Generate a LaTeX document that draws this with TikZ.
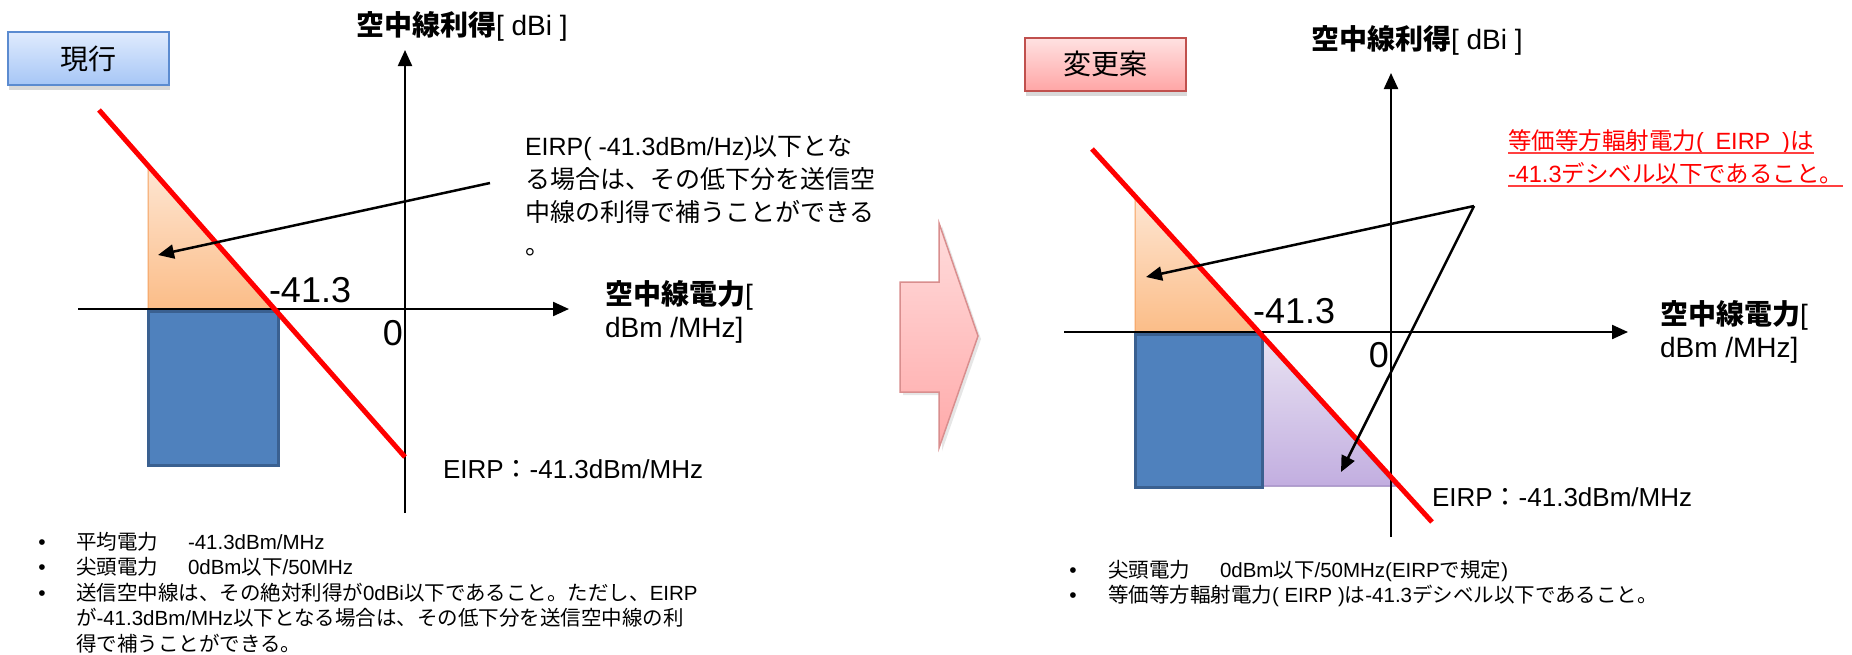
\documentclass[tikz,border=0pt]{standalone}
\usepackage{fontspec}
\setmainfont{Liberation Sans}
\newfontfamily\jp{Noto Sans CJK JP}
\newcommand\J[1]{{\jp #1}}
\newcommand\fs[1]{\fontsize{#1}{#1}\selectfont}
\usetikzlibrary{arrows.meta,shadows}
\definecolor{blueFill}{HTML}{4F81BD}
\definecolor{blueEdge}{HTML}{3A6090}
\definecolor{orgTop}{HTML}{FEE6D3}
\definecolor{orgBot}{HTML}{FBBD88}
\definecolor{orgEdge}{HTML}{F5A15F}
\definecolor{purTop}{HTML}{E8E2F2}
\definecolor{purBot}{HTML}{C2AEE0}
\definecolor{purEdge}{HTML}{8E78B4}
\definecolor{boxBTop}{HTML}{E0EBFD}
\definecolor{boxBBot}{HTML}{A6C6F6}
\definecolor{boxBEdge}{HTML}{5B8BD0}
\definecolor{boxRTop}{HTML}{FFE2E2}
\definecolor{boxRBot}{HTML}{FFA6A6}
\definecolor{boxREdge}{HTML}{C0504D}
\definecolor{arrTop}{HTML}{FFDCDC}
\definecolor{arrBot}{HTML}{FFA9A9}
\definecolor{arrEdge}{HTML}{D98E8E}
\definecolor{pureRed}{HTML}{FF0000}
\definecolor{ulRed}{HTML}{FF4040}
\begin{document}
\begin{tikzpicture}[x=1pt,y=-1pt,
  txt/.style={inner sep=0pt, outer sep=0pt, anchor=base west},
  axisline/.style={line width=2.2pt, -{Triangle[length=16pt,width=14pt]}},
  notearrow/.style={line width=2.5pt, -{Triangle[length=16pt,width=14pt]}},
  eirpline/.style={line width=5pt, pureRed},
  tagbox/.style={minimum width=161pt, minimum height=53pt, line width=2pt, inner sep=0pt,
    font=\fs{28}\jp, drop shadow={opacity=0.3, shadow xshift=1pt, shadow yshift=-5pt}},
  bul/.style={inner sep=0pt, anchor=base, font=\fs{21}},
  bt/.style={txt, font=\fs{20.5}},
]
\useasboundingbox (0,0) rectangle (1852,654);

% ---------------- left panel ----------------
\node[tagbox, draw=boxBEdge, top color=boxBTop, bottom color=boxBBot] (tagA) at (88,58.5) {現行};

\path[draw=orgEdge, line width=1pt, top color=orgTop, bottom color=orgBot]
  (148,166) -- (148,309) -- (274,309) -- cycle;
\path[draw=blueEdge, line width=3pt, fill=blueFill] (148,311) rectangle (278,465);

\coordinate (lyb) at (405,513);
\coordinate (lyt) at (405,50);
\coordinate (lxl) at (78,309);
\coordinate (lxr) at (569,309);
\draw[axisline] (lyb) -- (lyt);
\draw[axisline] (lxl) -- (lxr);

\coordinate (lra) at (99,110);
\coordinate (lrb) at (405,457);
\draw[eirpline] (lra) -- (lrb);

\node[txt, font=\fs{28}] (lytitle) at (356,35) {\J{\bfseries 空中線利得}[ dBi ]};
\node[txt, font=\fs{28}] (lxtitle1) at (605,304) {\J{\bfseries 空中線電力}[};
\node[txt, font=\fs{28}] (lxtitle2) at (605,337) {dBm /MHz]};
\node[txt, font=\fs{36}] (lval) at (269,302) {-41.3};
\node[inner sep=0pt, anchor=base east, font=\fs{36}] (lzero) at (403,345) {0};

\node[txt, font=\fs{25}] (note1) at (525,155) {EIRP( -41.3dBm/Hz)\J{以下とな}};
\node[txt, font=\fs{25}] (note2) at (525,188) {\J{る場合は、その低下分を送信空}};
\node[txt, font=\fs{25}] (note3) at (525,221) {\J{中線の利得で補うことができる}};
\node[txt, font=\fs{25}] (note4) at (525,254) {\J{。}};

\coordinate (lnoteS) at (490,183);
\coordinate (lnoteE) at (158,255);
\draw[notearrow] (lnoteS) -- (lnoteE);

\node[txt, font=\fs{26}] (leirp) at (443,478) {EIRP\J{：}-41.3dBm/MHz};

\node[bul] (lb1) at (42,549) {•};
\node[bul] (lb2) at (42,574) {•};
\node[bul] (lb3) at (42,600) {•};
\node[bt] (lt1) at (76,549) {\makebox[112pt][l]{\J{平均電力}}-41.3dBm/MHz};
\node[bt] (lt2) at (76,574) {\makebox[112pt][l]{\J{尖頭電力}}0dBm\J{以下}/50MHz};
\node[bt] (lt3) at (76,600) {\J{送信空中線は、その絶対利得が}0dBi\J{以下であること。ただし、}EIRP};
\node[bt] (lt4) at (76,625) {\J{が}-41.3dBm/MHz\J{以下となる場合は、その低下分を送信空中線の利}};
\node[bt] (lt5) at (76,651) {\J{得で補うことができる。}};

% ---------------- middle arrow ----------------
\path[draw=arrEdge, line width=1.5pt, top color=arrTop, bottom color=arrBot,
  drop shadow={opacity=0.2, shadow xshift=3pt, shadow yshift=-3pt}]
  (900,282) -- (939,282) -- (939,223) -- (978,336) -- (939,448) -- (939,392) -- (900,392) -- cycle;

% ---------------- right panel ----------------
\node[tagbox, draw=boxREdge, top color=boxRTop, bottom color=boxRBot] (tagB) at (1105,64) {変更案};

\path[draw=orgEdge, line width=1pt, top color=orgTop, bottom color=orgBot]
  (1135,196) -- (1135,332) -- (1259,332) -- cycle;
\path[draw=purEdge, line width=1pt, top color=purTop, bottom color=purBot]
  (1262,338) -- (1262,486) -- (1396,486) -- cycle;
\path[draw=blueEdge, line width=3pt, fill=blueFill] (1135,334) rectangle (1262,487);

\coordinate (ryb) at (1391,537);
\coordinate (ryt) at (1391,73);
\coordinate (rxl) at (1064,332);
\coordinate (rxr) at (1628,332);
\draw[axisline] (ryb) -- (ryt);
\draw[axisline] (rxl) -- (rxr);

\coordinate (rra) at (1092,149);
\coordinate (rrb) at (1432,522);
\draw[eirpline] (rra) -- (rrb);

\node[txt, font=\fs{28}] (rytitle) at (1311,49) {\J{\bfseries 空中線利得}[ dBi ]};
\node[txt, font=\fs{28}] (rxtitle1) at (1660,324) {\J{\bfseries 空中線電力}[};
\node[txt, font=\fs{28}] (rxtitle2) at (1660,357) {dBm /MHz]};
\node[txt, font=\fs{36}] (rval) at (1253,323) {-41.3};
\node[inner sep=0pt, anchor=base east, font=\fs{36}] (rzero) at (1389,367) {0};

\node[txt, font=\fs{23.5}, text=pureRed] (red1) at (1508,149) {\J{等価等方輻射電力}(\hspace{0.5em}EIRP\hspace{0.5em})\J{は}};
\node[txt, font=\fs{23.5}, text=pureRed] (red2) at (1508,182) {-41.3\J{デシベル以下であること。}};
\draw[ulRed, line width=2pt] ([yshift=-4pt]red1.base west) -- ([yshift=-4pt]red1.base east);
\draw[ulRed, line width=2pt] ([yshift=-4pt]red2.base west) -- ([yshift=-4pt]red2.base east);

\coordinate (rnoteS) at (1474,206);
\coordinate (rnoteE1) at (1146,277);
\coordinate (rnoteE2) at (1341,472);
\draw[notearrow] (rnoteS) -- (rnoteE1);
\draw[notearrow] (rnoteS) -- (rnoteE2);

\node[txt, font=\fs{26}] (reirp) at (1432,506) {EIRP\J{：}-41.3dBm/MHz};

\node[bul] (rb1) at (1073,577) {•};
\node[bul] (rb2) at (1073,602) {•};
\node[bt] (rt1) at (1108,577) {\makebox[112pt][l]{\J{尖頭電力}}0dBm\J{以下}/50MHz(EIRP\J{で規定})};
\node[bt] (rt2) at (1108,602) {\J{等価等方輻射電力}( EIRP )\J{は}-41.3\J{デシベル以下であること。}};
\end{tikzpicture}
\end{document}
